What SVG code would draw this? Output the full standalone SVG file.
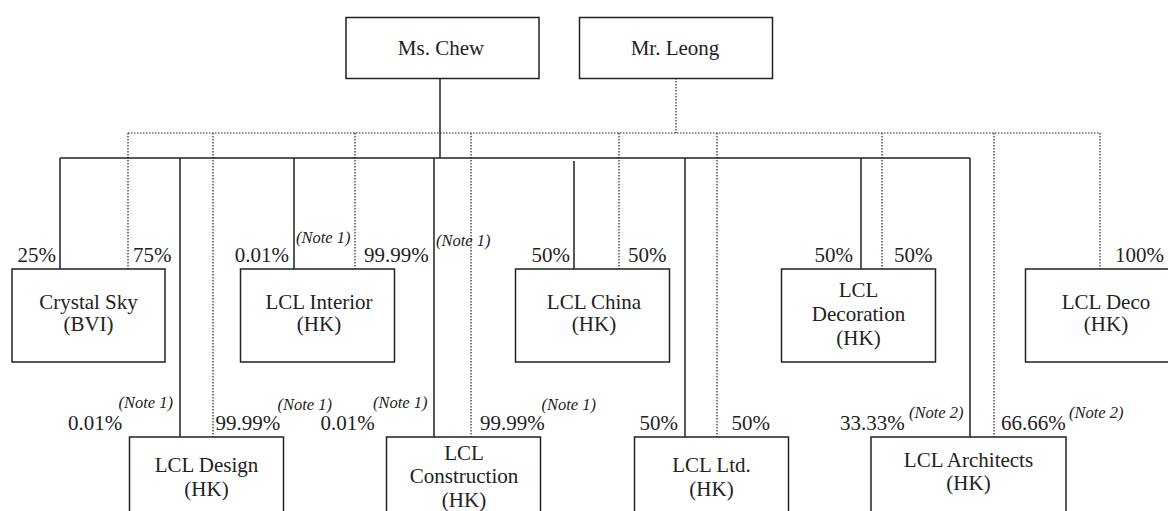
<svg xmlns="http://www.w3.org/2000/svg" width="1168" height="511" viewBox="0 0 1168 511">
<style>
.box{fill:#fff;stroke:#222;stroke-width:1.5}
.t{font-family:"Liberation Serif","Times New Roman",serif;font-size:21px;fill:#222}
.c{text-anchor:middle}
.n{font-family:"Liberation Serif","Times New Roman",serif;font-size:16.5px;font-style:italic;fill:#222}
.s{fill:none;stroke:#222;stroke-width:1.5}
.d{fill:none;stroke:#222;stroke-width:1.2;stroke-dasharray:1.5 1.5}
</style>
<rect width="1168" height="511" fill="#fff"/>
<g id="connectors">
<path class="s" d="M440 78V158M60 158H970M60 158V269M180 158V437M294 158V269M434 158V437M574 161V269M685 158V437M861 158V269M970 158V437"/>
<path class="d" d="M676 78V133M128 133H1100M128 133V269M213 133V437M355 133V269M471 133V437M619 133V269M717 133V437M882 133V269M994 133V437M1100 133V269"/>
</g>
<g id="ms-chew"><rect class="box" x="346" y="17.5" width="193" height="61"/><text class="t c" x="441" y="55">Ms. Chew</text></g>
<g id="mr-leong"><rect class="box" x="579.5" y="17.5" width="193" height="61"/><text class="t c" x="675" y="55">Mr. Leong</text></g>
<g id="crystal-sky"><rect class="box" x="12" y="269" width="153" height="93"/><text class="t c" x="88.5" y="309">Crystal Sky</text><text class="t c" x="88.5" y="331">(BVI)</text></g>
<g id="lcl-interior"><rect class="box" x="240.5" y="269" width="154" height="93"/><text class="t c" x="319" y="309">LCL Interior</text><text class="t c" x="319" y="331">(HK)</text></g>
<g id="lcl-china"><rect class="box" x="515.5" y="269" width="154" height="93"/><text class="t c" x="594" y="309">LCL China</text><text class="t c" x="594" y="331">(HK)</text></g>
<g id="lcl-decoration"><rect class="box" x="781.5" y="269" width="154" height="93"/><text class="t c" x="858.5" y="297">LCL</text><text class="t c" x="858.5" y="321">Decoration</text><text class="t c" x="858.5" y="345">(HK)</text></g>
<g id="lcl-deco"><rect class="box" x="1025.5" y="269" width="154" height="93"/><text class="t c" x="1106" y="309">LCL Deco</text><text class="t c" x="1106" y="331">(HK)</text></g>
<g id="lcl-design"><rect class="box" x="129.5" y="437" width="154" height="93"/><text class="t c" x="206.5" y="472">LCL Design</text><text class="t c" x="206.5" y="496">(HK)</text></g>
<g id="lcl-construction"><rect class="box" x="386.5" y="437" width="154" height="93"/><text class="t c" x="464" y="460">LCL</text><text class="t c" x="464" y="483">Construction</text><text class="t c" x="464" y="507">(HK)</text></g>
<g id="lcl-ltd"><rect class="box" x="634.5" y="437" width="154" height="93"/><text class="t c" x="711.5" y="472">LCL Ltd.</text><text class="t c" x="711.5" y="496">(HK)</text></g>
<g id="lcl-architects"><rect class="box" x="871" y="437" width="195" height="93"/><text class="t c" x="968.5" y="467">LCL Architects</text><text class="t c" x="968.5" y="490">(HK)</text></g>
<g id="labels">
<text class="t" x="56" y="262" text-anchor="end">25%</text>
<text class="t" x="133" y="262">75%</text>
<text class="t" x="289" y="262" text-anchor="end">0.01%</text>
<text class="n" x="296" y="243">(Note 1)</text>
<text class="t" x="364" y="262">99.99%</text>
<text class="n" x="436" y="246">(Note 1)</text>
<text class="t" x="570" y="262" text-anchor="end">50%</text>
<text class="t" x="628" y="262">50%</text>
<text class="t" x="853" y="262" text-anchor="end">50%</text>
<text class="t" x="894" y="262">50%</text>
<text class="t" x="1115" y="262">100%</text>
<text class="n" x="118.5" y="408">(Note 1)</text>
<text class="t" x="68" y="430">0.01%</text>
<text class="t" x="215.5" y="430">99.99%</text>
<text class="n" x="277.5" y="410">(Note 1)</text>
<text class="t" x="320.5" y="430">0.01%</text>
<text class="n" x="373" y="408">(Note 1)</text>
<text class="t" x="480" y="430">99.99%</text>
<text class="n" x="541.5" y="410">(Note 1)</text>
<text class="t" x="639.5" y="430">50%</text>
<text class="t" x="731.5" y="430">50%</text>
<text class="t" x="840" y="430">33.33%</text>
<text class="n" x="909" y="418">(Note 2)</text>
<text class="t" x="1001" y="430">66.66%</text>
<text class="n" x="1069" y="418">(Note 2)</text>
</g>
</svg>
